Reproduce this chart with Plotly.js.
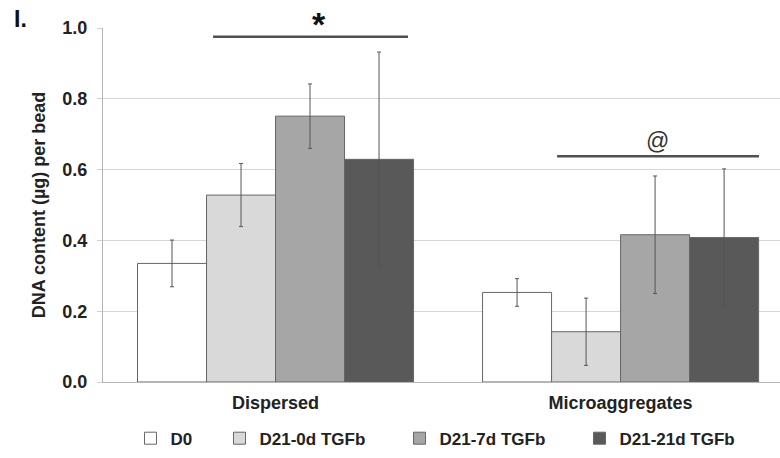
<!DOCTYPE html>
<html><head><meta charset="utf-8">
<script src="https://cdn.plot.ly/plotly-3.0.1.min.js"></script>
<style>html,body{margin:0;padding:0;background:#fff}#chart{width:780px;height:458px}</style>
</head><body><div id="chart"></div>
<script>
const categories = ["Dispersed", "Microaggregates"];
const seriesNames = ["D0", "D21-0d TGFb", "D21-7d TGFb", "D21-21d TGFb"];
const valuesD0 = [0.335, 0.253];
const valuesD21_0d = [0.528, 0.142];
const valuesD21_7d = [0.751, 0.416];
const valuesD21_21d = [0.629, 0.408];
const errD0 = [0.066, 0.039];
const errD21_0d = [0.089, 0.095];
const errD21_7d = [0.091, 0.166];
const errD21_21d = [0.303, 0.194];
const yTicks = [0, 0.2, 0.4, 0.6, 0.8, 1.0];
const yTickLabels = ["0.0", "0.2", "0.4", "0.6", "0.8", "1.0"];

const fills = ["#ffffff", "#d9d9d9", "#a6a6a6", "#595959"];
const vals = [valuesD0, valuesD21_0d, valuesD21_7d, valuesD21_21d];
const errs = [errD0, errD21_0d, errD21_7d, errD21_21d];
const legendIds = ["legend", "legend2", "legend3", "legend4"];
const legendX = [0.0406, 0.1721, 0.4380, 0.7038];

const traces = seriesNames.map((n, i) => ({
  type: "bar", name: n, x: categories, y: vals[i], legend: legendIds[i],
  marker: {color: fills[i], line: {color: "#666666", width: 1}},
  error_y: {type: "data", array: errs[i], visible: true, color: "#555555", thickness: 1, width: 2}
}));

const fam = "Liberation Sans, Arial, sans-serif";
const legendFont = {family: fam, size: 17, color: "#222", weight: "bold"};

const layout = {
  width: 780, height: 458,
  margin: {l: 103, r: 0, t: 28, b: 76},
  paper_bgcolor: "#fff", plot_bgcolor: "#fff",
  font: {family: fam, color: "#222", size: 14},
  barmode: "group", bargap: 0.2, bargroupgap: 0,
  showlegend: true,
  xaxis: {range: [-0.5, 1.462], showgrid: false, showline: true, linecolor: "#b5b5b5", linewidth: 1,
    ticks: "outside", ticklen: 4, tickcolor: "rgba(0,0,0,0)", automargin: false,
    tickfont: {family: fam, size: 18, color: "#222", weight: "bold"}, fixedrange: true},
  yaxis: {range: [0, 1.0], tickvals: yTicks, ticktext: yTickLabels, showgrid: true, gridcolor: "#d6d6d6", gridwidth: 1,
    showline: true, linecolor: "#b5b5b5", linewidth: 1, ticks: "outside", ticklen: 5, tickcolor: "#d0d0d0",
    zeroline: false, automargin: false, ticklabelstandoff: 6,
    tickfont: {family: fam, size: 18, color: "#222", weight: "bold"},
    title: {text: "DNA content (µg) per bead", font: {family: fam, size: 18, color: "#222", weight: "bold"}, standoff: 12}},
  shapes: [
    {type: "line", xref: "x", yref: "y", x0: -0.181, x1: 0.384, y0: 0.975, y1: 0.975, line: {color: "#505050", width: 2.5}},
    {type: "line", xref: "x", yref: "y", x0: 0.816, x1: 1.401, y0: 0.638, y1: 0.638, line: {color: "#505050", width: 2.5}}
  ],
  annotations: [
    {text: "<b>*</b>", xref: "paper", yref: "paper", x: 0.3058, y: 1.012, yanchor: "middle", showarrow: false, font: {family: fam, size: 34, color: "#111"}},
    {text: "@", xref: "x", yref: "y", x: 1.106, y: 0.681, yanchor: "middle", showarrow: false, font: {family: fam, size: 23, color: "#333"}},
    {text: "<b>I.</b>", xref: "paper", yref: "paper", x: -0.1344, y: 1.025, xanchor: "left", yanchor: "middle", showarrow: false, font: {family: fam, size: 23, color: "#111"}}
  ]
};
legendIds.forEach((id, i) => {
  layout[id] = {orientation: "h", x: legendX[i], xanchor: "left", y: -0.16, yanchor: "middle",
    font: legendFont, bgcolor: "rgba(0,0,0,0)", borderwidth: 0};
});
Plotly.newPlot("chart", traces, layout, {displayModeBar: false, staticPlot: true});
</script></body></html>
